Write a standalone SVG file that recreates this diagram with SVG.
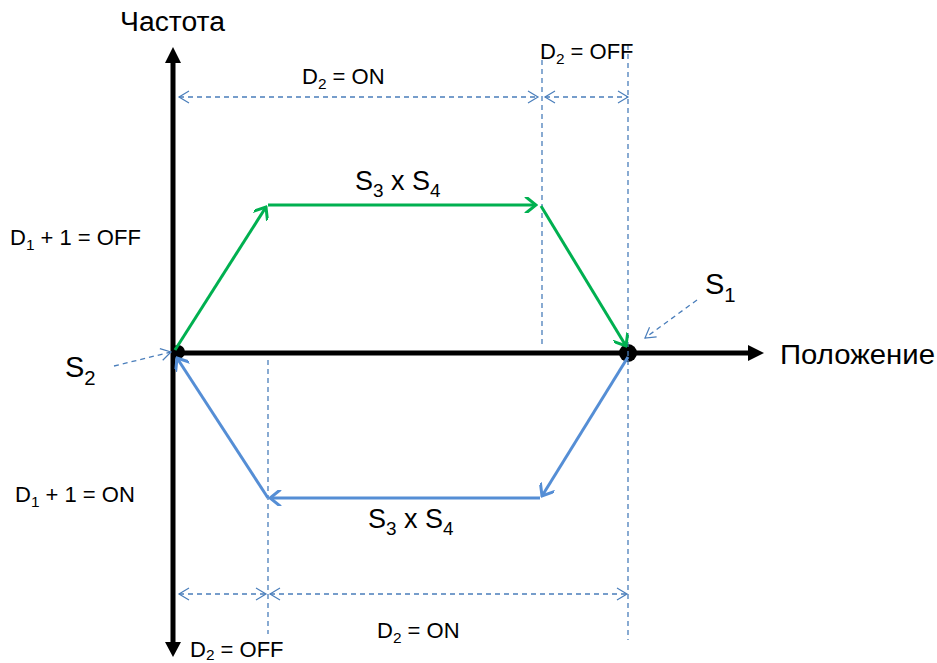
<svg xmlns="http://www.w3.org/2000/svg" width="937" height="663" viewBox="0 0 937 663">
<defs>
<marker id="og" markerWidth="14" markerHeight="16" viewBox="-12 -8 14 16" refX="0" refY="0" orient="auto" markerUnits="userSpaceOnUse">
<path d="M-10,-8 L0,0 L-10,8" fill="none" stroke="#00B050" stroke-width="3" stroke-linecap="round"/>
</marker>
<marker id="ob" markerWidth="14" markerHeight="16" viewBox="-12 -8 14 16" refX="0" refY="0" orient="auto" markerUnits="userSpaceOnUse">
<path d="M-10,-8 L0,0 L-10,8" fill="none" stroke="#558ED5" stroke-width="3" stroke-linecap="round"/>
</marker>
<marker id="od" viewBox="-12 -8 14 16" markerWidth="14" markerHeight="16" refX="0" refY="0" orient="auto" markerUnits="userSpaceOnUse">
<path d="M-10,-6 L0,0 L-10,6" fill="none" stroke="#4A7EBB" stroke-width="1.2"/>
</marker>
<marker id="ods" viewBox="-2 -8 14 16" markerWidth="14" markerHeight="16" refX="0" refY="0" orient="auto" markerUnits="userSpaceOnUse">
<path d="M10,-6 L0,0 L10,6" fill="none" stroke="#4A7EBB" stroke-width="1.2"/>
</marker>
</defs>
<style>
.t{font-family:"Liberation Sans",Arial,sans-serif;fill:#000}
.s{font-size:22px}
.l{font-size:27px}
.xl{font-size:29px}
.sub{font-size:70%}
.dash{stroke:#4A7EBB;stroke-width:1.3;stroke-dasharray:5,4;fill:none}
.g{stroke:#00B050;stroke-width:3;fill:none}
.b{stroke:#558ED5;stroke-width:3;fill:none}
.ax{stroke:#000;stroke-width:5;fill:none}
</style>
<g id="axes">
<line class="ax" x1="173" y1="645" x2="173" y2="60"/>
<polygon points="173,47 165,63 181,63" fill="#000"/>
<polygon points="173,657 165,642 181,642" fill="#000"/>
<line class="ax" x1="173" y1="353" x2="750" y2="353"/>
<polygon points="764,353 748,345 748,361" fill="#000"/>
<circle cx="178" cy="352" r="7" fill="#000"/>
<circle cx="628" cy="353" r="9" fill="#000"/>
</g>
<g id="connectors">
<line class="dash" x1="268" y1="360" x2="268" y2="634"/>
<line class="dash" x1="542" y1="60" x2="542" y2="348"/>
<line class="dash" x1="628" y1="45" x2="628" y2="640"/>
<line class="dash" x1="179" y1="97" x2="538" y2="97" marker-start="url(#ods)" marker-end="url(#od)"/>
<line class="dash" x1="545" y1="97" x2="628" y2="97" marker-start="url(#ods)" marker-end="url(#od)"/>
<line class="dash" x1="179" y1="594" x2="266" y2="594" marker-start="url(#ods)" marker-end="url(#od)"/>
<line class="dash" x1="270" y1="594" x2="627" y2="594" marker-start="url(#ods)" marker-end="url(#od)"/>
<line class="dash" x1="114" y1="366" x2="171" y2="352" marker-end="url(#od)"/>
<line class="dash" x1="697" y1="300" x2="645" y2="338" marker-end="url(#od)"/>
<line class="g" x1="175" y1="350" x2="266" y2="207" marker-end="url(#og)"/>
<line class="g" x1="268" y1="205" x2="536" y2="205" marker-end="url(#og)"/>
<line class="g" x1="541" y1="206" x2="626" y2="346" marker-end="url(#og)"/>
<line class="b" x1="628" y1="357" x2="542" y2="496" marker-end="url(#ob)"/>
<line class="b" x1="540" y1="498" x2="270" y2="498" marker-end="url(#ob)"/>
<line class="b" x1="268" y1="498" x2="177" y2="358" marker-end="url(#ob)"/>
</g>
<g id="labels">
<text class="t l" x="120" y="31" textLength="105" lengthAdjust="spacingAndGlyphs">Частота</text>
<text class="t l" x="780" y="364" textLength="155" lengthAdjust="spacingAndGlyphs">Положение</text>
<text class="t s" x="302" y="84">D<tspan class="sub" dy="5">2</tspan><tspan dy="-5"> = ON</tspan></text>
<text class="t s" x="540" y="59">D<tspan class="sub" dy="5">2</tspan><tspan dy="-5"> = OFF</tspan></text>
<text class="t l" x="355" y="190">S<tspan class="sub" dy="7">3</tspan><tspan dy="-7"> x S</tspan><tspan class="sub" dy="7">4</tspan></text>
<text class="t s" x="10" y="245">D<tspan class="sub" dy="5">1</tspan><tspan dy="-5"> + 1 = OFF</tspan></text>
<text class="t xl" x="705" y="294">S<tspan class="sub" dy="8">1</tspan></text>
<text class="t xl" x="65" y="377">S<tspan class="sub" dy="8">2</tspan></text>
<text class="t s" x="15" y="502">D<tspan class="sub" dy="5">1</tspan><tspan dy="-5"> + 1 = ON</tspan></text>
<text class="t l" x="368" y="528">S<tspan class="sub" dy="7">3</tspan><tspan dy="-7"> x S</tspan><tspan class="sub" dy="7">4</tspan></text>
<text class="t s" x="377" y="638">D<tspan class="sub" dy="5">2</tspan><tspan dy="-5"> = ON</tspan></text>
<text class="t s" x="190" y="657">D<tspan class="sub" dy="3">2</tspan><tspan dy="-3"> = OFF</tspan></text>
</g>
</svg>
